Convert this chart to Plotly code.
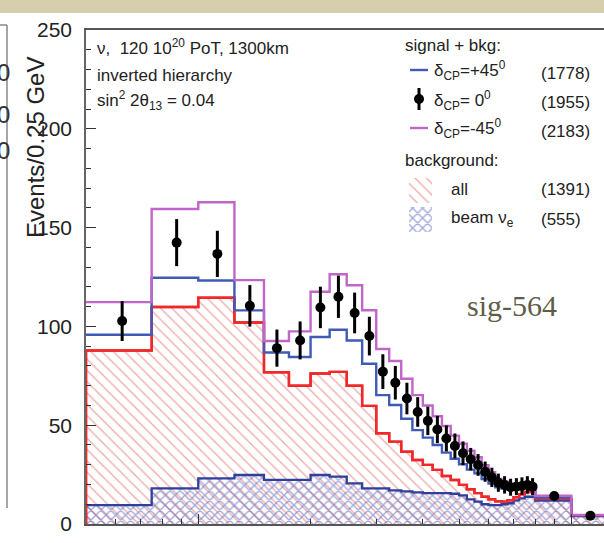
import math
import plotly.graph_objects as go

# ---------------- data ----------------
bin_edges = [0.5, 0.75, 1.0, 1.25, 1.5, 1.75, 2.0, 2.25, 2.5, 2.75, 3.0, 3.25, 3.5, 3.75,
             4.0, 4.25, 4.5, 4.75, 5.0, 5.25, 5.5, 5.75, 6.0, 6.25, 6.5, 6.75, 7.0, 7.25,
             7.5, 7.75, 8.0, 10.0, 12.5]

bkg_all = [87.8, 109.8, 114.5, 102.0, 76.8, 70.0, 76.2, 77.0, 70.0, 59.8, 45.9, 41.7, 36.6,
           32.4, 29.9, 27.4, 24.3, 22.3, 19.8, 17.6, 15.6, 13.8, 12.5, 11.5, 11.3, 12.0, 13.5,
           15.0, 16.2, 17.0, 12.6, 4.3]

bkg_beam_nue = [9.6, 18.0, 23.1, 24.8, 22.3, 22.3, 24.8, 24.0, 20.6, 18.0, 18.0, 17.0, 16.5,
                16.0, 15.6, 15.6, 15.6, 15.3, 14.5, 12.5, 11.3, 10.0, 9.6, 9.6, 10.0, 10.5,
                12.0, 13.0, 13.8, 13.8, 11.8, 4.0]

sig_plus45 = [95.8, 124.6, 123.2, 108.1, 86.8, 84.5, 94.6, 98.3, 92.9, 81.1, 65.2, 60.2, 53.3,
              47.5, 43.7, 40.0, 36.1, 33.0, 30.2, 27.5, 25.6, 22.7, 20.5, 18.6, 17.9, 17.3,
              17.8, 18.6, 19.3, 18.6, 13.3, 4.4]

sig_minus45 = [112.3, 159.4, 162.8, 123.4, 92.6, 97.5, 117.5, 126.4, 120.8, 108.2, 88.6, 82.5,
               73.5, 65.2, 60.0, 54.5, 49.6, 44.7, 40.6, 37.1, 33.8, 29.7, 26.2, 22.8, 21.5,
               19.9, 19.9, 19.8, 20.3, 19.2, 14.3, 4.6]

sig_zero = [102.7, 142.4, 136.7, 110.4, 89.0, 92.9, 109.6, 115.0, 106.8, 95.1, 77.1, 71.5, 63.5,
            56.7, 52.2, 47.8, 43.3, 39.5, 35.8, 32.8, 29.9, 26.5, 23.6, 20.9, 19.8, 18.6, 18.9,
            19.2, 19.8, 18.9, 14.2, 4.2]

sig_zero_err = [10.1, 11.9, 11.7, 10.5, 9.4, 9.6, 10.5, 10.7, 10.3, 9.8, 8.8, 8.5, 8.0, 7.5,
                7.2, 6.9, 6.6, 6.3, 6.0, 5.7, 5.5, 5.1, 4.9, 4.6, 4.4, 4.3, 4.3, 4.4, 4.4, 4.3,
                1.3, 0.7]

y_ticks = [0, 50, 100, 150, 200, 250]
x_ticks = [1, 10]
x_tick_labels = ["1", "10"]

legend_rows = [("δ<sub>CP</sub>=+45<sup>0</sup>", "(1778)"),
               ("δ<sub>CP</sub>= 0<sup>0</sup>", "(1955)"),
               ("δ<sub>CP</sub>=-45<sup>0</sup>", "(2183)")]
bkg_rows = [("all", "(1391)"), ("beam ν<sub>e</sub>", "(555)")]

# ---------------- geometry (pixels) ----------------
W, H = 604, 543
ML, MR, MT, MB = 86, 0, 30, 19
PW, PH = W - ML - MR, H - MT - MB
PX_PER_DEC = 373.0
x_lo = math.log10(0.5)
x_hi = x_lo + PW / PX_PER_DEC


def xp(px):
    return (px - ML) / PW


def yp(py):
    return (H - MB - py) / PH


def step_xy(edges, vals, closed=False):
    xs = list(edges)
    ys = list(vals) + [vals[-1]]
    if closed:
        xs = [edges[0]] + xs + [edges[-1]]
        ys = [0] + ys + [0]
    return xs, ys


FONT = "Liberation Sans, Arial, sans-serif"
RED = "#f0282a"
RED_HATCH = "#de5a55"
BLUE = "#3f5bb5"
BEAM_BLUE = "#2f3f9c"
XHATCH = "#4756b8"
PURPLE = "#c066c8"

RED_PAT = dict(shape="\\", fgcolor=RED_HATCH, bgcolor="white", size=8, solidity=0.17)
X_PAT = dict(shape="x", fgcolor=XHATCH, bgcolor="rgba(255,255,255,0)", size=7, solidity=0.36)

fig = go.Figure()

# all background: red hatched
bx, by = step_xy(bin_edges, bkg_all, closed=True)
fig.add_trace(go.Scatter(x=bx, y=by, mode="lines", line=dict(color=RED, width=2.4, shape="hv"),
                         fill="tozeroy", fillcolor="rgba(255,255,255,0)", fillpattern=RED_PAT,
                         hoverinfo="skip", showlegend=False))

# beam nu_e background: blue cross-hatch
nx, ny = step_xy(bin_edges, bkg_beam_nue, closed=True)
fig.add_trace(go.Scatter(x=nx, y=ny, mode="lines", line=dict(color=BEAM_BLUE, width=2.3, shape="hv"),
                         fill="tozeroy", fillcolor="rgba(255,255,255,0)", fillpattern=X_PAT,
                         hoverinfo="skip", showlegend=False))

# red outline on top of hatch
fig.add_trace(go.Scatter(x=bx, y=by, mode="lines", line=dict(color=RED, width=2.4, shape="hv"),
                         hoverinfo="skip", showlegend=False))

# signal + bkg, delta = +45
px_, py_ = step_xy(bin_edges, sig_plus45)
fig.add_trace(go.Scatter(x=px_, y=py_, mode="lines", line=dict(color=BLUE, width=2.4, shape="hv"),
                         hoverinfo="skip", showlegend=False))

# signal + bkg, delta = -45
mx, my = step_xy(bin_edges, sig_minus45)
fig.add_trace(go.Scatter(x=mx, y=my, mode="lines", line=dict(color=PURPLE, width=2.4, shape="hv"),
                         hoverinfo="skip", showlegend=False))

# signal + bkg, delta = 0 (points)
centers = [(bin_edges[i] + bin_edges[i + 1]) / 2 for i in range(len(sig_zero))]
fig.add_trace(go.Scatter(x=centers, y=sig_zero, mode="markers",
                         marker=dict(color="black", size=10),
                         error_y=dict(type="data", array=sig_zero_err, color="black",
                                      thickness=3, width=0),
                         hoverinfo="skip", showlegend=False))

# ---------------- legend samples on a pixel overlay axis ----------------
fig.add_trace(go.Scatter(x=[410, 428], y=[70, 70], mode="lines", line=dict(color=BLUE, width=2.4),
                         xaxis="x2", yaxis="y2", hoverinfo="skip", showlegend=False))
fig.add_trace(go.Scatter(x=[419], y=[99], mode="markers", marker=dict(color="black", size=10),
                         error_y=dict(type="data", array=[11], color="black", thickness=3, width=0),
                         xaxis="x2", yaxis="y2", hoverinfo="skip", showlegend=False))
fig.add_trace(go.Scatter(x=[410, 428], y=[128, 128], mode="lines", line=dict(color=PURPLE, width=2.4),
                         xaxis="x2", yaxis="y2", hoverinfo="skip", showlegend=False))
fig.add_trace(go.Scatter(x=[409, 432, 432, 409, 409], y=[178, 178, 203, 203, 178], mode="none",
                         fill="toself", fillcolor="rgba(255,255,255,0)", fillpattern=RED_PAT,
                         xaxis="x2", yaxis="y2", hoverinfo="skip", showlegend=False))
fig.add_trace(go.Scatter(x=[409, 432, 432, 409, 409], y=[207, 207, 232, 232, 207], mode="none",
                         fill="toself", fillcolor="rgba(255,255,255,0)",
                         fillpattern=dict(shape="x", fgcolor=XHATCH, bgcolor="white", size=7, solidity=0.36),
                         xaxis="x2", yaxis="y2", hoverinfo="skip", showlegend=False))

# ---------------- annotations ----------------
ann = []


def txt(px, py, s, size=17, anchor="left", color="#222", font=FONT, angle=0):
    ann.append(dict(x=xp(px), y=yp(py), xref="paper", yref="paper", text=s, showarrow=False,
                    xanchor=anchor, yanchor="middle", textangle=angle,
                    font=dict(family=font, size=size, color=color)))


txt(95, 47, "ν,  120 10<sup>20</sup> PoT, 1300km")
txt(95, 75, "inverted hierarchy")
txt(95, 101, "sin<sup>2</sup> 2θ<sub>13</sub> = 0.04")

txt(403, 45, "signal + bkg:")
for i, (lab, cnt) in enumerate(legend_rows):
    txt(432, 71 + 29 * i, lab)
    txt(539, 73 + 29 * i, cnt)
txt(403, 160, "background:")
for i, (lab, cnt) in enumerate(bkg_rows):
    txt(449, 190 + 29 * i, lab)
    txt(539, 190 + 29 * i, cnt)

txt(35, 148, "Events/0.25 GeV", size=24, anchor="center", angle=-90)
txt(465, 305, "sig-564", size=30, color="#5f5c48", font="Liberation Serif, DejaVu Serif, serif")

# partial digits of the neighbouring panel
for yy in [72, 114, 150]:
    txt(-5, yy, "0", size=24, anchor="left", color="#333")

shapes = [
    dict(type="rect", xref="paper", yref="paper", x0=xp(0), x1=xp(W), y0=yp(0), y1=yp(13),
         fillcolor="#d6cfae", line=dict(width=0), layer="above"),
    dict(type="line", xref="paper", yref="paper", x0=xp(7), x1=xp(7), y0=yp(25), y1=yp(508),
         line=dict(color="#888", width=1.5)),
    dict(type="line", xref="paper", yref="paper", x0=xp(0), x1=xp(7), y0=yp(25), y1=yp(25),
         line=dict(color="#888", width=1.5)),
]

fig.update_layout(
    width=W, height=H,
    margin=dict(l=ML, r=MR, t=MT, b=MB, pad=0),
    paper_bgcolor="white", plot_bgcolor="white",
    annotations=ann, shapes=shapes,
    showlegend=False,
    xaxis=dict(type="log", range=[x_lo, x_hi], tickvals=x_ticks, ticktext=x_tick_labels,
               ticks="inside", ticklen=10, tickwidth=1.2, tickcolor="#333",
               minor=dict(tickvals=[0.6, 0.7, 0.8, 0.9, 2, 3, 4, 5, 6, 7, 8, 9],
                          ticks="inside", ticklen=5, tickcolor="#333", tickwidth=1),
               showline=True, linecolor="#555", linewidth=1.5, mirror=True,
               showgrid=False, zeroline=False, automargin=False,
               tickfont=dict(family=FONT, size=21, color="#222"), ticklabelstandoff=6),
    yaxis=dict(range=[0, 250], tickvals=y_ticks, ticks="inside", ticklen=10, tickwidth=1.2,
               tickcolor="#333",
               minor=dict(dtick=10, ticks="inside", ticklen=5, tickcolor="#333", tickwidth=1),
               showline=True, linecolor="#666", linewidth=1.5, mirror=False,
               showgrid=False, zeroline=False, automargin=False,
               tickfont=dict(family=FONT, size=21, color="#222"), ticklabelstandoff=8),
    xaxis2=dict(range=[ML, W], domain=[0, 1], overlaying="x", visible=False, fixedrange=True),
    yaxis2=dict(range=[H - MB, MT], domain=[0, 1], overlaying="y", visible=False, fixedrange=True),
)

fig.write_html("out.html", config={"displayModeBar": False})
